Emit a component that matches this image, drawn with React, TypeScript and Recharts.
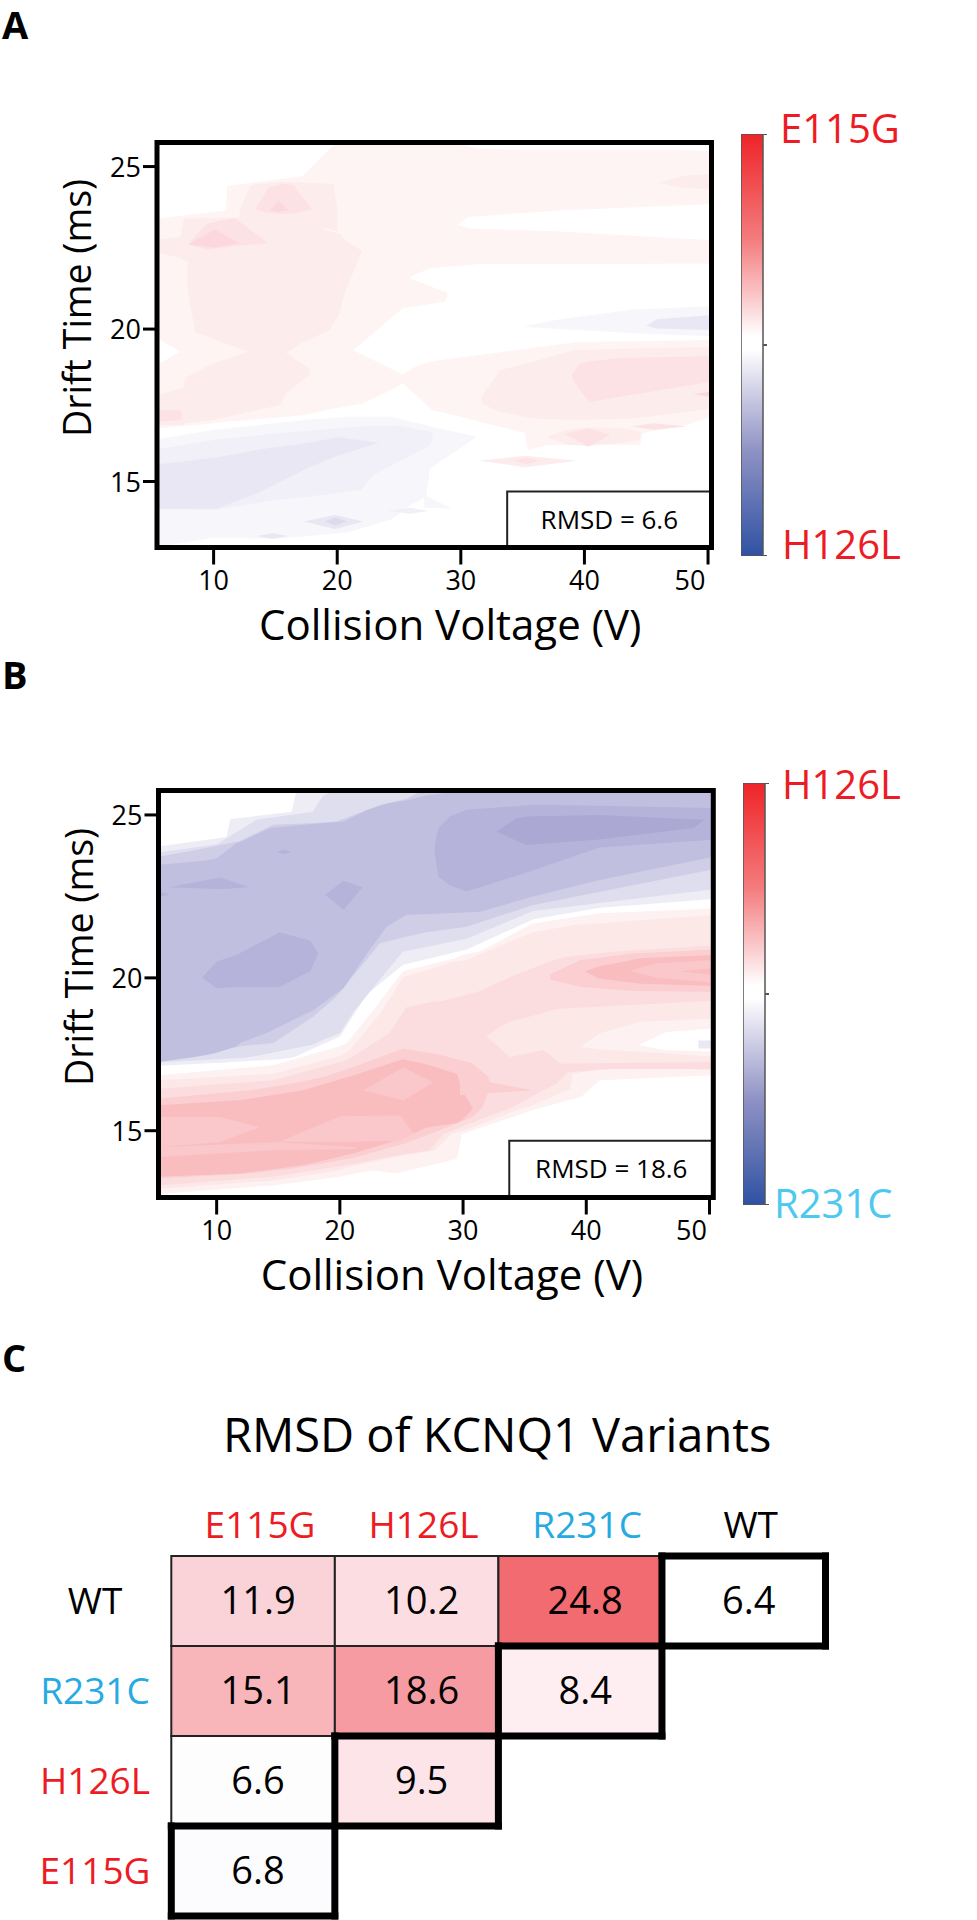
import { Area, Bar, BarChart, ComposedChart, ReferenceArea, ReferenceLine, XAxis, YAxis } from 'recharts';

const FONT = '"Open Sans", sans-serif';
const RED = '#ED1C24';
const CYAN_BAR = '#4DC8EE';
const CYAN_TABLE = '#27AAE1';

type Row = [number, number, number]; // voltage, low drift, high drift

const voltageTicks = [10, 20, 30, 40, 50];
// the drift axis in the source is uneven, its 15 mark sits nearer to 20 than 25 does
const driftTicks = [15.31, 20, 25];

// ---- panel A contour bands, painted in order ----
const aMain: Row[] = [[5.4, 16.95, 23.4], [10, 17.1, 23.6], [11, 17.15, 23.65], [11.1, 17.15, 24.4], [17.2, 17.35, 24.7], [19.55, 17.55, 25.6], [20.5, 17.6, 25.8], [22, 17.7, 25.8], [24.5, 18.15, 25.8], [25.3, 18.34, 25.8], [27.7, 17.5, 25.8], [30, 17.3, 25.67], [31.5, 17.15, 25.55], [35.2, 16.8, 25.5], [35.4, 16.28, 25.5], [37, 16.43, 25.5], [44.5, 16.43, 25.5], [44.7, 16.8, 25.5], [48.2, 17.05, 25.5], [50.3, 17.3, 25.48]];
const aNotch: Row[] = [[5.4, 18.9, 19.72], [7.3, 19.3, 19.3]];
const aBay: Row[] = [[21.3, 19.35, 19.35], [25.3, 18.6, 20.64], [25.9, 18.75, 21.6], [26.1, 18.8, 21.65], [27.5, 19, 21.87], [31.5, 19.2, 22], [39.4, 19.6, 22], [50.3, 19.66, 22.02]];
const aTongue: Row[] = [[25.3, 20.64, 21.65], [28.7, 20.84, 21.15], [28.9, 21, 21.1]];
const aHole: Row[] = [[29.7, 23.2, 23.2], [30.6, 23.1, 23.45], [38, 23, 23.65], [50.3, 22.73, 23.85]];
const aWedge: Row[] = [[46, 24.5, 24.5], [48, 24.35, 24.72], [50.3, 24.3, 24.77]];
const aBody: Row[] = [[7.9, 21.2, 23.4], [8, 21, 23.4], [8.5, 19.9, 23.4], [12.8, 19.3, 23.43], [16.05, 19.3, 23.4], [17, 19.55, 23.4], [19.4, 19.97, 23], [20.2, 20.5, 22.94], [20.6, 21.1, 22.75], [22, 22.4, 22.4]];
const aStrip: Row[] = [[5.4, 22.35, 22.75], [7.3, 22.2, 22.85], [7.6, 22.1, 23.4], [8, 22.1, 23.4]];
const aBox: Row[] = [[12.1, 23.4, 23.66], [13, 23.4, 24.43], [15.65, 23.4, 24.53], [19.7, 23.05, 24.46], [20, 23, 23.7]];
const aPeak1: Row[] = [[7.9, 22.6, 22.6], [9.5, 22.45, 23.25], [11.7, 22.55, 23.42], [14.4, 22.65, 22.65]];
const aPeak1Core: Row[] = [[7.95, 22.6, 22.6], [10.1, 22.5, 23.06], [12.1, 22.65, 22.65]];
const aPeak2: Row[] = [[13.35, 23.68, 23.68], [14.4, 23.58, 24.33], [15.5, 23.54, 24.48], [16.45, 23.55, 24.43], [17.95, 23.68, 23.68]];
const aPeak2Core: Row[] = [[14.55, 23.66, 23.66], [15.25, 23.6, 23.95], [16.05, 23.66, 23.66]];
const aLower: Row[] = [[5.4, 17.05, 17.95], [7.55, 17.04, 18.2], [7.7, 17.1, 18.5], [10, 17.2, 18.95], [12.8, 17.45, 19.3], [15.4, 17.66, 19.3], [15.8, 18, 19.3], [17.8, 18.6, 18.75]];
const aPatch: Row[] = [[5.4, 17.15, 17.5], [7.4, 17.2, 17.5]];
const aBlob: Row[] = [[31.7, 17.7, 17.95], [33.2, 17.45, 18.74], [35.9, 17.25, 19], [39.1, 17.2, 19.35], [44, 17.25, 19.4], [50.3, 17.55, 19.45]];
const aBlobCore: Row[] = [[39, 18.5, 18.6], [39.65, 18.1, 18.94], [40.45, 17.76, 19], [42.6, 17.9, 19.1], [50.3, 18.38, 19.17]];
const aEdgeSpot: Row[] = [[48.8, 18, 18], [50.3, 17.9, 18.08]];
const aLens: Row[] = [[31.4, 15.95, 15.95], [35.2, 15.75, 16.1], [39.4, 15.95, 15.95]];
const aLensCore: Row[] = [[34.2, 15.95, 15.95], [35.3, 15.85, 16.05], [36.4, 15.95, 15.95]];
const aBump: Row[] = [[36.95, 16.69, 16.69], [38.6, 16.45, 16.9], [40.2, 16.4, 16.97], [43, 16.5, 16.95], [44.5, 16.6, 16.85]];
const aBumpCore: Row[] = [[38.4, 16.78, 16.78], [40.3, 16.38, 16.95], [42.1, 16.75, 16.75]];
const aBumpSide: Row[] = [[43.8, 17, 17], [45.6, 16.9, 17.1], [48.3, 17, 17]];
const aBlueLens: Row[] = [[35, 20.07, 20.07], [38, 20, 20.3], [44, 19.87, 20.6], [50.3, 19.78, 20.7]];
const aBlueLensCore: Row[] = [[45, 20.1, 20.1], [45.85, 20.02, 20.3], [50.3, 19.97, 20.43]];
const aBlue1: Row[] = [[5.4, 13.3, 16.6], [10, 13.58, 16.9], [15, 13.55, 17.1], [17.8, 13.63, 17.22], [20.9, 13.75, 17.3], [24.4, 14.15, 17.3], [26, 14.6, 17.15], [27.2, 14.84, 17.05], [27.5, 15.7, 17], [31.3, 16.69, 16.69]];
const aBlue1Tail: Row[] = [[27, 14.5, 14.9], [29.3, 14.48, 14.48]];
const aBlue2: Row[] = [[5.4, 14.45, 16.3], [10.25, 14.44, 16.6], [14.8, 14.73, 16.78], [17.8, 14.85, 16.87], [21.9, 15.05, 17], [22.9, 15.5, 17.02], [24.9, 15.9, 17.03], [27.45, 16.4, 16.85], [27.7, 16.6, 16.8]];
const aBlue3: Row[] = [[5.4, 14.47, 15.83], [10.25, 14.47, 16.05], [13.8, 15, 16.3], [17.8, 15.76, 16.5], [20, 16.1, 16.67], [23.4, 16.5, 16.5]];
const aSpot1: Row[] = [[17.3, 14.08, 14.08], [19.85, 13.85, 14.28], [22.1, 14.08, 14.08]];
const aSpot1Core: Row[] = [[19, 14.08, 14.08], [19.85, 13.95, 14.2], [20.8, 14.08, 14.08]];
const aSpot2: Row[] = [[24, 14.4, 14.4], [25.9, 14.32, 14.5], [27.4, 14.4, 14.4]];
const aSpot3: Row[] = [[13.5, 13.63, 13.63], [14.8, 13.55, 13.72], [16, 13.63, 13.63]];

const P1 = '#FEF4F4';
const P2 = '#FDECEC';
const P3 = '#FDE2E5';
const P4 = '#FCD8DD';
const L1 = '#F7F6FB';
const L2 = '#F1F0F8';
const L3 = '#E8E7F3';
const L4 = '#DCDBEC';

const panelABands: [string, Row[]][] = [
  [P1, aMain], ['#FFFFFF', aNotch], ['#FFFFFF', aBay], [P1, aTongue], ['#FFFFFF', aHole], [P2, aWedge],
  [P2, aBody], [P2, aStrip], [P2, aBox], [P3, aPeak1], [P4, aPeak1Core], [P3, aPeak2], [P4, aPeak2Core],
  [P2, aLower], [P3, aPatch], [P2, aBlob], [P3, aBlobCore], [P4, aEdgeSpot],
  [P2, aLens], [P3, aLensCore], [P2, aBump], [P3, aBumpCore], [P3, aBumpSide],
  [L1, aBlueLens], [L3, aBlueLensCore], [L1, aBlue1], [L1, aBlue1Tail], [L2, aBlue2], [L3, aBlue3],
  [L3, aSpot1], [L4, aSpot1Core], [L2, aSpot2], [L3, aSpot3],
];

// ---- panel B contour bands ----
const bBlue1: Row[] = [[5.3, 17.3, 24.03], [10.8, 17.4, 24.32], [11.1, 17.42, 24.87], [15.1, 17.5, 25.05], [16.1, 17.55, 25.1], [16.5, 17.6, 25.8], [20, 18.2, 25.8], [22.2, 19.5, 25.8], [25.14, 20.4, 25.8], [30.3, 20.87, 25.8], [35.7, 21.8, 25.8], [41.1, 22.15, 25.8], [50.35, 22.42, 25.8]];
const bBlue2: Row[] = [[5.3, 17.4, 23.85], [10, 17.5, 24.1], [12.15, 17.55, 24.6], [13.2, 17.6, 24.85], [17.8, 17.95, 25.1], [18.65, 18.1, 25.6], [20, 18.3, 25.8], [21.1, 18.95, 25.8], [25.1, 20.8, 25.8], [30.3, 21.2, 25.8], [35.7, 22.05, 25.8], [50.35, 22.72, 25.8]];
const bBlue3: Row[] = [[5.3, 17.45, 23.72], [8, 17.55, 23.9], [11.9, 17.9, 24.2], [14.6, 18, 24.7], [17.8, 18.8, 24.75], [19.7, 19.42, 24.8], [23.25, 21.06, 25.3], [25.4, 21.26, 25.5], [27, 21.4, 25.8], [30.3, 21.57, 25.8], [35.7, 22.24, 25.8], [50.35, 23.33, 25.8]];
const bBlue4: Row[] = [[5.3, 17.42, 23.47], [9.2, 17.63, 23.6], [10, 17.7, 23.67], [11.6, 17.9, 24.13], [11.9, 18, 24.17], [14.3, 18.35, 24.6], [15.1, 18.5, 24.63], [17.8, 19, 24.72], [20.3, 19.68, 24.8], [22.2, 20.75, 25.15], [23.8, 21.57, 25.35], [25.4, 21.93, 25.45], [27, 21.95, 25.6], [31.4, 22.03, 25.8], [35.7, 22.5, 25.8], [41.1, 23, 25.8], [50.35, 23.72, 25.8]];
const bLens: Row[] = [[6.07, 22.78, 22.78], [10.27, 22.72, 23.08], [12.7, 22.78, 22.78]];
const bEdge: Row[] = [[5.3, 22.5, 22.65], [6.2, 22.55, 22.55]];
const bDiamond: Row[] = [[18.8, 22.55, 22.55], [20.3, 22.08, 22.98], [21.85, 22.78, 22.78]];
const bIsland: Row[] = [[8.8, 20, 20], [10, 19.68, 20.5], [11.6, 19.72, 20.7], [15.1, 19.72, 21.4], [17.6, 20.2, 21.15], [18.25, 20.75, 20.75]];
const bSpeck: Row[] = [[14.9, 23.85, 23.85], [15.4, 23.8, 23.95], [16.1, 23.85, 23.85]];
const bRight: Row[] = [[27.7, 23.8, 24.1], [28, 23.1, 24.6], [28.9, 22.85, 24.95], [30.3, 22.65, 25.16], [35.7, 23.3, 25.31], [41.1, 24, 25.28], [50.35, 24.24, 25.21]];
const bRightCore: Row[] = [[32.7, 24.5, 24.5], [34.35, 24.2, 24.9], [35.2, 24.08, 24.95], [41.1, 24.25, 25], [48.7, 24.6, 24.87], [49.6, 24.85, 24.85]];
const bRed1: Row[] = [[5.3, 13.37, 17.01], [14.6, 13.63, 17.32], [20, 13.9, 17.9], [20.55, 13.95, 17.99], [22.7, 14.1, 19], [24.5, 14, 19.9], [25.14, 14.05, 20.2], [29.5, 14.45, 20.62], [29.9, 15.2, 20.7], [31.4, 15.4, 20.82], [34.8, 15.83, 21.5], [35.7, 15.95, 21.67], [39.6, 16.35, 21.9], [41.1, 16.86, 21.98], [50.35, 17.01, 22.13]];
const bRed2: Row[] = [[5.3, 13.53, 16.86], [14.6, 13.78, 17.06], [20, 14.1, 17.6], [20.8, 14.2, 17.78], [23.25, 14.4, 18.9], [25.14, 14.55, 20.03], [27.7, 14.7, 20.3], [29, 15.2, 20.48], [30.3, 15.35, 20.55], [34.35, 15.94, 21.2], [35.7, 16.1, 21.4], [38.7, 16.6, 21.6], [38.9, 17.05, 21.62], [41.1, 17.2, 21.67], [42.5, 17.27, 21.72], [50.35, 17.17, 21.93]];
const bRed3: Row[] = [[5.3, 13.63, 16.6], [14.6, 13.9, 16.86], [20.55, 14.25, 17.47], [24, 14.5, 18.3], [25.4, 14.6, 19.1], [27.3, 14.7, 19.25], [28.4, 15.2, 19.3], [31.4, 15.65, 19.6], [33.8, 16, 20.03], [37.05, 16.65, 20.5], [37.6, 16.76, 20.58], [38.5, 17.1, 20.65], [42, 17.2, 20.8], [50.35, 17.2, 21]];
const bHole2: Row[] = [[31.9, 18.2, 18.2], [33, 17.85, 18.5], [33.8, 17.57, 18.65], [36.5, 17.78, 18.92], [37.05, 17.65, 19], [37.9, 17.37, 19.05], [50.35, 17.42, 19.3]];
const bHole1: Row[] = [[39.5, 17.88, 17.88], [41.1, 17.8, 18.3], [44.4, 17.73, 18.65], [50.35, 17.58, 18.75]];
const bHole0: Row[] = [[44.2, 17.93, 17.93], [46.5, 17.78, 18.34], [50.35, 17.73, 18.45]];
const bSquare: Row[] = [[49.1, 17.83, 18.08], [50.35, 17.83, 18.08]];
const bRed4: Row[] = [[5.3, 13.84, 16.3], [12.7, 14, 16.55], [16, 14.14, 16.75], [18.65, 14.3, 16.96], [21.4, 14.5, 17.3], [25.14, 14.9, 17.83], [27.6, 15.25, 17.68], [28.1, 15.32, 17.65], [30.8, 15.73, 17.37], [31.6, 16.04, 17.1], [32, 16.45, 17], [32.2, 16.5, 16.8], [35.6, 16.55, 16.55]];
const bRed5: Row[] = [[5.3, 13.9, 16.09], [12, 14, 16.25], [17, 14.25, 16.55], [21, 14.6, 17], [25.1, 15.07, 17.5], [27, 15.4, 17.35], [29.5, 15.55, 17.06], [30, 15.65, 16.5], [30.8, 16, 16]];
const bTip: Row[] = [[29.75, 16.4, 16.85], [35.6, 16.55, 16.55]];
const bHill: Row[] = [[21.9, 16.55, 16.55], [25.15, 16.24, 17.25], [27.6, 16.8, 16.8]];
const bLeft: Row[] = [[5.3, 14.8, 15.73], [10.27, 14.96, 15.73], [13.5, 15.42, 15.42]];
const bLeftLow: Row[] = [[5.3, 14.5, 14.8], [15, 14.72, 14.96], [21.3, 14.75, 14.8]];
const bMid: Row[] = [[15.1, 14.97, 14.97], [20, 14.96, 15.75], [24.9, 15, 15.78], [26, 15.22, 15.22]];
const bUpper4: Row[] = [[37.05, 19.95, 20.1], [39.5, 19.72, 20.55], [43.8, 19.6, 20.75], [50.35, 19.57, 20.87]];
const bUpper5: Row[] = [[39.9, 20.2, 20.2], [41, 19.98, 20.35], [44.4, 19.82, 20.6], [50.35, 19.75, 20.7]];
const bUpperLight: Row[] = [[43.55, 20.22, 20.22], [45.7, 20, 20.45], [50.35, 19.85, 20.55]];
const bUpperTip: Row[] = [[47.6, 20.2, 20.2], [50.35, 20.08, 20.3]];

const B1 = '#EEEDF6';
const B2 = '#DFDEEE';
const B3 = '#CFCEE6';
const B4 = '#C1BFE0';
const B5 = '#B6B3DB';
const B6 = '#ABA8D4';
const R1 = '#FDF1F1';
const R2 = '#FDE8E8';
const R3 = '#FCDDDF';
const R4 = '#FBCFD1';
const R5 = '#F9BDC0';
const R6 = '#FAC8CA';

const panelBBands: [string, Row[]][] = [
  [B1, bBlue1], [B2, bBlue2], [B3, bBlue3], [B4, bBlue4], [B5, bLens], [B5, bEdge], [B5, bDiamond], [B5, bIsland], [B5, bSpeck],
  [B5, bRight], [B6, bRightCore],
  [R1, bRed1], [R2, bRed2], [R3, bRed3], [R2, bHole2], [R1, bHole1], ['#FFFFFF', bHole0], ['#E9E8F4', bSquare],
  [R4, bRed4], [R5, bRed5], [R4, bTip], [R6, bHill], [R6, bLeft], [R6, bLeftLow], [R6, bMid],
  [R4, bUpper4], [R5, bUpper5], [R6, bUpperLight], [R5, bUpperTip],
];

// ---- panel C ----
const variantColumns = ['E115G', 'H126L', 'R231C', 'WT'];
const variantRows = ['WT', 'R231C', 'H126L', 'E115G'];
const rmsdWT = [11.9, 10.2, 24.8, 6.4];
const rmsdR231C = [15.1, 18.6, 8.4];
const rmsdH126L = [6.6, 9.5];
const rmsdE115G = [6.8];
const rmsdByRow = [rmsdWT, rmsdR231C, rmsdH126L, rmsdE115G];
const cellFills = [
  ['#FAD3D9', '#FCDEE2', '#F16B70', '#FFFFFF'],
  ['#F9B6BA', '#F69BA2', '#FEEEF1'],
  ['#FDFDFD', '#FDE4E8'],
  ['#FCFCFF'],
];
// staircase of the thick black outline, in cell units
const stairSegments = [
  [3, 0, 4, 0], [4, 0, 4, 1], [2, 1, 4, 1], [3, 0, 3, 2], [1, 2, 3, 2], [2, 1, 2, 3],
  [0, 3, 2, 3], [1, 2, 1, 4], [0, 3, 0, 4], [0, 4, 1, 4],
];
const tableSpan = [{ col: 0, span: [0, 4] }, { col: 4, span: [0, 4] }];

const colorOf = (name: string) => (name === 'R231C' ? CYAN_TABLE : name === 'WT' ? '#000' : RED);

interface ContourPanelProps {
  top: number;
  bands: [string, Row[]][];
  xDomain: [number, number];
  yDomain: [number, number];
  margin: { top: number; right: number; bottom: number; left: number };
  rmsd: string;
}

function VoltageTick({ x, y, payload }: any) {
  // last label is pulled left in the source so it stays under the frame
  const shift = payload.value === 50 ? -18 : 0;
  return (
    <text x={x + shift} y={y} dy={23} textAnchor="middle" fontFamily={FONT} fontSize={27} fill="#000">
      {payload.value}
    </text>
  );
}

function DriftTick({ x, y, payload }: any) {
  return (
    <text x={x} y={y} dy={10} textAnchor="end" fontFamily={FONT} fontSize={27} fill="#000">
      {Math.round(payload.value / 5) * 5}
    </text>
  );
}

function ContourPanel({ top, bands, xDomain, yDomain, margin, rmsd }: ContourPanelProps) {
  return (
    <div style={{ position: 'absolute', left: 0, top }}>
      <ComposedChart width={977} height={660} margin={margin}>
        <XAxis
          dataKey="v"
          type="number"
          domain={xDomain}
          allowDataOverflow
          ticks={voltageTicks}
          axisLine={false}
          tickSize={17}
          tickLine={{ stroke: '#000', strokeWidth: 3 }}
          tick={VoltageTick}
          height={60}
          label={{ value: 'Collision Voltage (V)', position: 'insideBottom', dx: 16, dy: 37, fontFamily: FONT, fontSize: 42, fill: '#000' }}
        />
        <YAxis
          type="number"
          domain={yDomain}
          allowDataOverflow
          ticks={driftTicks}
          axisLine={false}
          tickSize={14}
          tickLine={{ stroke: '#000', strokeWidth: 3 }}
          tick={DriftTick}
          width={60}
          label={{ value: 'Drift Time (ms)', angle: -90, position: 'insideLeft', dx: -24, dy: 92, fontFamily: FONT, fontSize: 37.5, fill: '#000' }}
        />
        {bands.map(([color, rows], i) => (
          <Area
            key={i}
            data={rows.map(([v, lo, hi]) => ({ v, band: [lo, hi] }))}
            dataKey="band"
            type="linear"
            fill={color}
            fillOpacity={1}
            stroke="none"
            dot={false}
            activeDot={false}
            isAnimationActive={false}
          />
        ))}
        <ReferenceArea
          x1={33.75}
          x2={xDomain[1]}
          y1={yDomain[0]}
          y2={15}
          fill="#fff"
          fillOpacity={1}
          stroke="#222"
          strokeWidth={2}
          ifOverflow="visible"
          label={{ value: rmsd, position: 'center', fontFamily: FONT, fontSize: 26, fill: '#000' }}
        />
        <ReferenceArea x1={xDomain[0]} x2={xDomain[1]} y1={yDomain[0]} y2={yDomain[1]} fill="none" stroke="#000" strokeWidth={5} ifOverflow="visible" />
      </ComposedChart>
    </div>
  );
}

const colorbarData = [{ name: 'scale', full: 1 }];

function ColorBar({ left, top, id }: { left: number; top: number; id: string }) {
  return (
    <div style={{ position: 'absolute', left, top }}>
      <BarChart width={32} height={422} data={colorbarData} margin={{ top: 0, right: 0, bottom: 0, left: 0 }} barCategoryGap={0}>
        <defs>
          <linearGradient id={id} x1="0" y1="0" x2="0" y2="1">
            <stop offset="0" stopColor="#EE2428" />
            <stop offset="0.25" stopColor="#F47C7E" />
            <stop offset="0.4" stopColor="#FBD0D2" />
            <stop offset="0.48" stopColor="#FFFFFF" />
            <stop offset="0.51" stopColor="#FFFFFF" />
            <stop offset="0.6" stopColor="#D5D4E9" />
            <stop offset="0.75" stopColor="#8F92C4" />
            <stop offset="1" stopColor="#2F51A3" />
          </linearGradient>
        </defs>
        <XAxis dataKey="name" hide />
        <YAxis
          orientation="right"
          domain={[0, 1]}
          ticks={[0, 0.5, 1]}
          width={10}
          axisLine={false}
          tickSize={4}
          tickLine={{ stroke: '#555', strokeWidth: 2 }}
          tickFormatter={() => ''}
        />
        <Bar dataKey="full" fill={`url(#${id})`} stroke="#555" strokeWidth={1.5} isAnimationActive={false} />
      </BarChart>
    </div>
  );
}

function ColumnTick({ x, y, payload }: any) {
  const name = variantColumns[Math.floor(payload.value)];
  return (
    <text x={x + 7} y={y} dy={-10} textAnchor="middle" fontFamily={FONT} fontSize={37} fill={colorOf(name)}>
      {name}
    </text>
  );
}

function RowTick({ y, payload }: any) {
  const name = variantRows[Math.floor(payload.value)];
  return (
    <text x={95} y={y} dy={13} textAnchor="middle" fontFamily={FONT} fontSize={37} fill={colorOf(name)}>
      {name}
    </text>
  );
}

function RmsdTable() {
  return (
    <div style={{ position: 'absolute', left: 0, top: 1480 }}>
      <ComposedChart width={977} height={440} margin={{ top: 16, right: 151.5, bottom: 4, left: 71.3 }}>
        <XAxis dataKey="col" type="number" orientation="top" domain={[0, 4]} ticks={[0.5, 1.5, 2.5, 3.5]} axisLine={false} tickLine={false} height={60} tick={ColumnTick} />
        <YAxis type="number" reversed domain={[0, 4]} ticks={[0.5, 1.5, 2.5, 3.5]} axisLine={false} tickLine={false} width={100} tick={RowTick} />
        <Area data={tableSpan} dataKey="span" fill="#fff" fillOpacity={0} stroke="none" dot={false} activeDot={false} isAnimationActive={false} />
        {rmsdByRow.map((values, r) =>
          values.map((value, c) => (
            <ReferenceArea
              key={`${r}-${c}`}
              x1={c}
              x2={c + 1}
              y1={r}
              y2={r + 1}
              fill={cellFills[r][c]}
              fillOpacity={1}
              stroke="#222"
              strokeWidth={2}
              ifOverflow="visible"
              label={{ value: value.toFixed(1), position: 'center', dx: 5, fontFamily: FONT, fontSize: 38, fill: '#000' }}
            />
          )),
        )}
        {stairSegments.map(([x1, y1, x2, y2], i) => (
          <ReferenceLine
            key={i}
            segment={[{ x: x1, y: y1 }, { x: x2, y: y2 }]}
            stroke="#000"
            strokeWidth={7}
            strokeLinecap="square"
            ifOverflow="visible"
          />
        ))}
      </ComposedChart>
    </div>
  );
}

function Caption({ x, y, size, color, weight, children }: any) {
  return (
    <div style={{ position: 'absolute', left: x, top: y, fontFamily: FONT, fontSize: size, lineHeight: 1, color: color ?? '#000', fontWeight: weight ?? 400, whiteSpace: 'nowrap' }}>
      {children}
    </div>
  );
}

export default function App() {
  return (
    <div style={{ position: 'absolute', left: 0, top: 0, width: 977, height: 1920, background: '#fff', overflow: 'hidden' }}>
      <Caption x={2} y={5} size={38} weight={700}>A</Caption>
      <Caption x={2} y={655} size={38} weight={700}>B</Caption>
      <Caption x={2} y={1338} size={38} weight={700}>C</Caption>

      <ContourPanel
        top={0}
        bands={panelABands}
        xDomain={[5.42, 50.28]}
        yDomain={[13.28, 25.74]}
        margin={{ top: 142.5, right: 265.5, bottom: 52.5, left: 97 }}
        rmsd="RMSD = 6.6"
      />
      <ColorBar left={741} top={134} id="scaleA" />
      <Caption x={780} y={108} size={40} color={RED}>E115G</Caption>
      <Caption x={782} y={524} size={40} color={RED}>H126L</Caption>

      <ContourPanel
        top={650}
        bands={panelBBands}
        xDomain={[5.28, 50.31]}
        yDomain={[13.26, 25.75]}
        margin={{ top: 140.5, right: 263.7, bottom: 52.5, left: 98.5 }}
        rmsd="RMSD = 18.6"
      />
      <ColorBar left={743} top={783} id="scaleB" />
      <Caption x={782} y={764} size={40} color={RED}>H126L</Caption>
      <Caption x={774} y={1183} size={40} color={CYAN_BAR}>R231C</Caption>

      <Caption x={223} y={1411} size={47}>RMSD of KCNQ1 Variants</Caption>
      <RmsdTable />
    </div>
  );
}
